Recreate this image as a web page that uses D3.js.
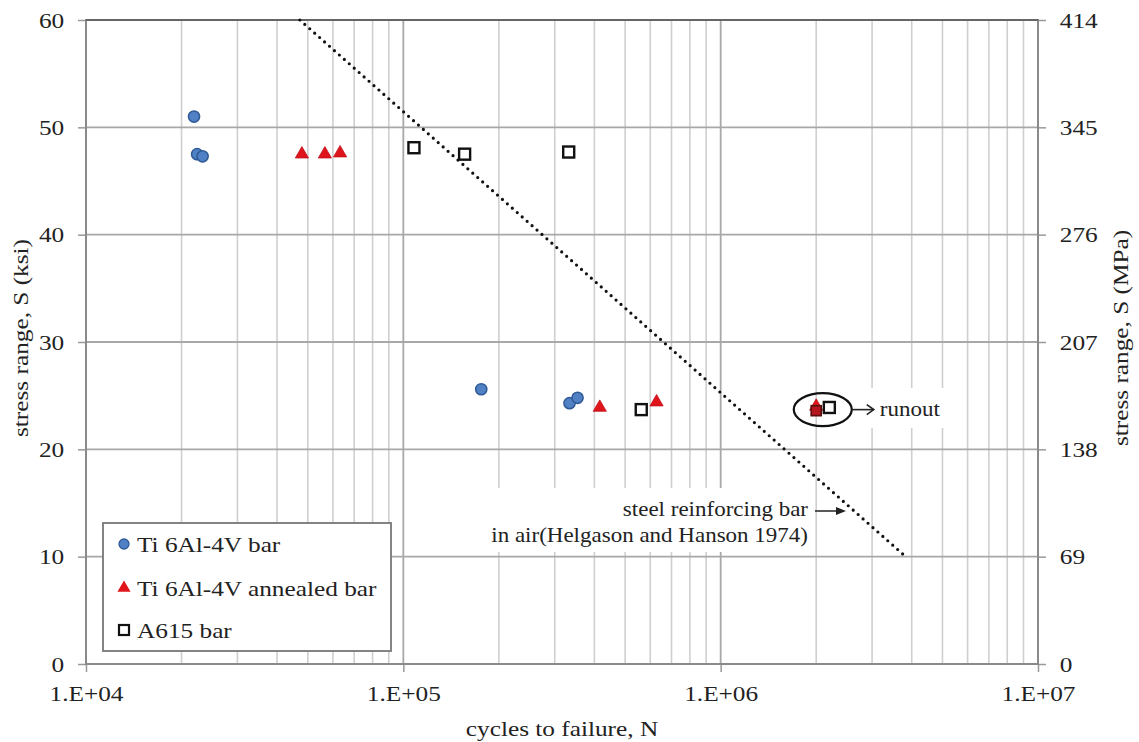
<!DOCTYPE html>
<html>
<head>
<meta charset="utf-8">
<script src="https://cdn.jsdelivr.net/npm/d3@7"></script>
<style>
  html, body { margin: 0; padding: 0; background: #fff; }
  svg { display: block; }
  text { font-family: "Liberation Serif", "Times New Roman", serif; fill: #222; }
</style>
</head>
<body>
<svg id="chart" width="1139" height="742"></svg>
<script>
// Fatigue data: cycles to failure N and stress range S (ksi)
const tiBarN = [21900, 22400, 23300, 176000, 334000, 354000];
const tiBarS = [51.0, 47.5, 47.3, 25.6, 24.3, 24.8];

const tiAnnealedN = [47900, 56600, 63200, 416000, 628000, 2000000];
const tiAnnealedS = [47.5, 47.5, 47.6, 23.9, 24.4, 24.0];

const a615N = [108000, 156000, 332000, 562000, 2200000];
const a615S = [48.1, 47.5, 47.7, 23.7, 23.9];

// runout specimen drawn over the annealed-bar runout
const runoutN = [2000000];
const runoutS = [23.6];

// Helgason and Hanson (1974) line for steel reinforcing bar in air
const steelLineN = [47200, 3830000];
const steelLineS = [60, 10];

const leftTicks = [0, 10, 20, 30, 40, 50, 60];
const rightTicks = [0, 69, 138, 207, 276, 345, 414];
const xTicks = [1e4, 1e5, 1e6, 1e7];
const xTickLabels = ["1.E+04", "1.E+05", "1.E+06", "1.E+07"];

const seriesNames = ["Ti 6Al-4V bar", "Ti 6Al-4V annealed bar", "A615 bar"];

const svg = d3.select("#chart");
const L = 86, R = 1038, T = 20, B = 664;

const x = d3.scaleLog().domain([1e4, 1e7]).range([L, R]);
const y = d3.scaleLinear().domain([0, 60]).range([B, T]);
const yR = d3.scaleLinear().domain([0, 414]).range([B, T]);

const fs = 22;      // main font size
const SX = 1.15;    // wide serif: horizontal glyph stretch

// places a text with a horizontal stretch along its baseline
function label(txt, px, py, size, anchor, rot) {
  return svg.append("text")
    .attr("transform", `translate(${px},${py})${rot ? ` rotate(${rot})` : ""} scale(${SX},1)`)
    .attr("text-anchor", anchor || "start")
    .style("font-size", size + "px")
    .text(txt);
}

// minor vertical grid (2..9 within each decade)
const minor = [];
[1e4, 1e5, 1e6].forEach(d => { for (let k = 2; k <= 9; k++) minor.push(d * k); });
svg.append("g").selectAll("line").data(minor).join("line")
  .attr("x1", d => x(d)).attr("x2", d => x(d))
  .attr("y1", T).attr("y2", B)
  .attr("stroke", "#cfcfcf").attr("stroke-width", 1.6);

// major vertical grid
svg.append("g").selectAll("line").data(xTicks).join("line")
  .attr("x1", d => x(d)).attr("x2", d => x(d))
  .attr("y1", T).attr("y2", B)
  .attr("stroke", "#a8a8a8").attr("stroke-width", 1.8);

// horizontal grid
svg.append("g").selectAll("line").data(leftTicks).join("line")
  .attr("x1", L).attr("x2", R)
  .attr("y1", d => y(d)).attr("y2", d => y(d))
  .attr("stroke", "#a8a8a8").attr("stroke-width", 1.8);

// text backgrounds that mask the grid
svg.append("rect").attr("x", 495).attr("y", 488).attr("width", 320).attr("height", 64).attr("fill", "#fff");
svg.append("rect").attr("x", 870).attr("y", 388).attr("width", 82).attr("height", 40).attr("fill", "#fff");

// axes (tick marks + labels)
const leftAxis = d3.axisLeft(y).tickValues(leftTicks).tickSize(8).tickPadding(11);
const gL = svg.append("g").attr("transform", `translate(${L},0)`).call(leftAxis);
const rightAxis = d3.axisRight(yR).tickValues(rightTicks).tickSize(8).tickPadding(11);
const gR = svg.append("g").attr("transform", `translate(${R},0)`).call(rightAxis);
const bottomAxis = d3.axisBottom(x).tickValues(xTicks)
  .tickFormat((d, i) => xTickLabels[i]).tickSize(8).tickPadding(13);
const gB = svg.append("g").attr("transform", `translate(0,${B})`).call(bottomAxis);

[gL, gR, gB].forEach(g => {
  g.select(".domain").remove();
  g.selectAll(".tick line").attr("stroke", "#999").attr("stroke-width", 1.5);
  g.selectAll(".tick text").style("font-family", "'Liberation Serif', serif")
    .style("font-size", fs + "px").attr("fill", "#222")
    .attr("transform", `scale(${SX},1)`);
});
gB.selectAll(".tick text").attr("dy", "0.71em");

// plot frame
svg.append("rect").attr("x", L).attr("y", T).attr("width", R - L).attr("height", B - T)
  .attr("fill", "none").attr("stroke", "#8a8a8a").attr("stroke-width", 2);
svg.append("line").attr("x1", L).attr("x2", R).attr("y1", T).attr("y2", T)
  .attr("stroke", "#666").attr("stroke-width", 2);

// steel reinforcing bar line (dotted)
const line = d3.line().x(d => x(d[0])).y(d => y(d[1]));
svg.append("path")
  .datum(steelLineN.map((n, i) => [n, steelLineS[i]]))
  .attr("d", line)
  .attr("fill", "none").attr("stroke", "#111").attr("stroke-width", 3.2)
  .attr("stroke-linecap", "round").attr("stroke-dasharray", "0 6.6");

// markers
const tri = d3.symbol().type(d3.symbolTriangle).size(75);

svg.append("g").selectAll("path").data(tiAnnealedN.map((n, i) => [n, tiAnnealedS[i]])).join("path")
  .attr("d", tri)
  .attr("transform", d => `translate(${x(d[0])},${y(d[1])})`)
  .attr("fill", "#e0141b").attr("stroke", "#c0101a").attr("stroke-width", 0.8);

svg.append("g").selectAll("rect").data(a615N.map((n, i) => [n, a615S[i]])).join("rect")
  .attr("x", d => x(d[0]) - 5.5).attr("y", d => y(d[1]) - 5.5)
  .attr("width", 11).attr("height", 11)
  .attr("fill", "#fff").attr("stroke", "#111").attr("stroke-width", 2.4);

svg.append("g").selectAll("rect").data(runoutN.map((n, i) => [n, runoutS[i]])).join("rect")
  .attr("x", d => x(d[0]) - 5).attr("y", d => y(d[1]) - 5)
  .attr("width", 10).attr("height", 10)
  .attr("fill", "#b3161c").attr("stroke", "#5a0d0d").attr("stroke-width", 1.6);

svg.append("g").selectAll("circle").data(tiBarN.map((n, i) => [n, tiBarS[i]])).join("circle")
  .attr("cx", d => x(d[0])).attr("cy", d => y(d[1])).attr("r", 5.6)
  .attr("fill", "#4f81c4").attr("stroke", "#2f5a95").attr("stroke-width", 1.5);

// runout ellipse and arrow
const ex = (x(runoutN[0]) + x(a615N[4])) / 2, ey = y(23.7);
svg.append("ellipse").attr("cx", ex).attr("cy", ey).attr("rx", 29).attr("ry", 16.5)
  .attr("fill", "none").attr("stroke", "#111").attr("stroke-width", 2.2);
svg.append("line").attr("x1", ex + 29).attr("x2", ex + 51).attr("y1", ey).attr("y2", ey)
  .attr("stroke", "#222").attr("stroke-width", 1.6);
svg.append("path").attr("d", `M${ex + 44},${ey - 5} L${ex + 51},${ey} L${ex + 44},${ey + 5}`)
  .attr("fill", "none").attr("stroke", "#222").attr("stroke-width", 1.6);
label("runout", ex + 57, ey + 6, 20, "start");

// steel bar annotation
label("steel reinforcing bar", 808, 516, 20, "end");
label("in air(Helgason and Hanson 1974)", 808, 542, 20, "end");
svg.append("line").attr("x1", 815).attr("x2", 838).attr("y1", 511).attr("y2", 511)
  .attr("stroke", "#222").attr("stroke-width", 1.5);
svg.append("path").attr("d", "M836,507 L846,511 L836,515 Z").attr("fill", "#222");

// legend
const lg = svg.append("g");
lg.append("rect").attr("x", 103).attr("y", 523).attr("width", 288).attr("height", 128)
  .attr("fill", "#fff").attr("stroke", "#777").attr("stroke-width", 1.8);
const ly = [544, 588, 630];
lg.append("circle").attr("cx", 124).attr("cy", ly[0]).attr("r", 5)
  .attr("fill", "#4f81c4").attr("stroke", "#2f5a95").attr("stroke-width", 1.3);
lg.append("path").attr("d", tri).attr("transform", `translate(124,${ly[1]})`)
  .attr("fill", "#e0141b");
lg.append("rect").attr("x", 119).attr("y", ly[2] - 5).attr("width", 10).attr("height", 10)
  .attr("fill", "#fff").attr("stroke", "#111").attr("stroke-width", 2.2);
seriesNames.forEach((name, i) => label(name, 137, ly[i] + 8, fs, "start"));

// axis titles
label("cycles to failure, N", 562, 736, fs, "middle");
label("stress range, S (ksi)", 28, 338, fs, "middle", -90);
label("stress range, S (MPa)", 1128, 338, fs, "middle", -90);
</script>
</body>
</html>
